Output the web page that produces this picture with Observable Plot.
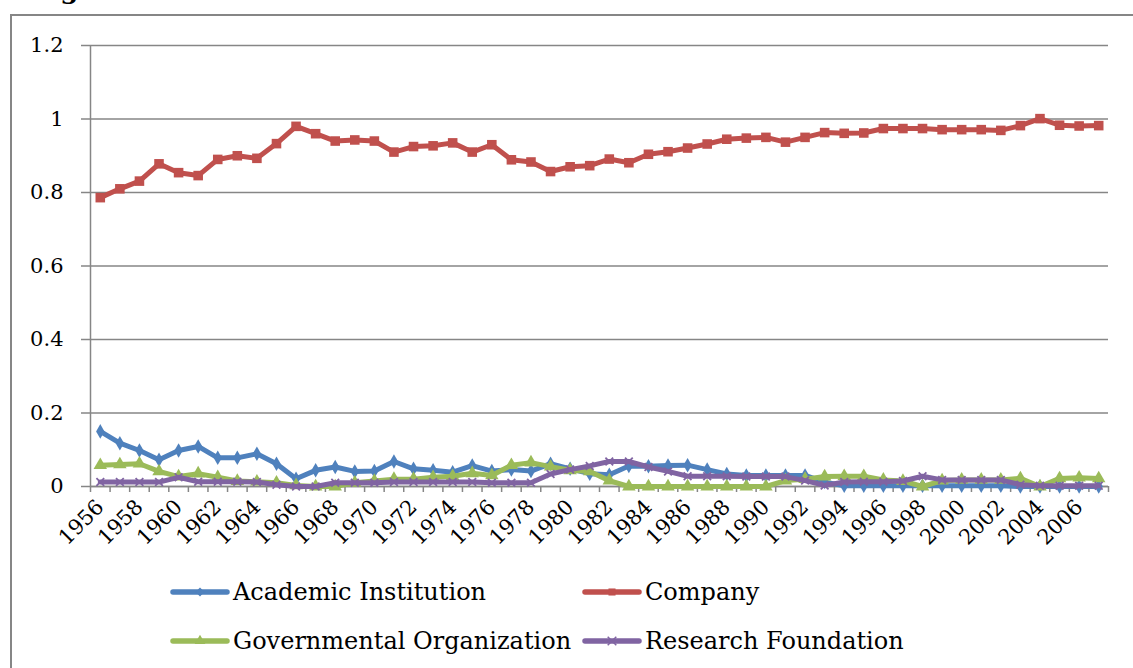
<!DOCTYPE html>
<html><head><meta charset="utf-8">
<script src="https://cdn.jsdelivr.net/npm/d3@7"></script>
<script src="https://cdn.jsdelivr.net/npm/@observablehq/plot@0.6"></script>
<style>
body{margin:0;background:#fff;}
#wrap{position:relative;width:1133px;height:668px;overflow:hidden;font-family:'DejaVu Serif',serif;background:#fff;}
#frame{position:absolute;left:10px;top:14px;width:1140px;height:700px;border:2px solid #868686;box-sizing:border-box;}
#title{position:absolute;left:32px;top:-23px;font-family:'DejaVu Serif',serif;font-weight:bold;font-size:26px;line-height:26px;white-space:nowrap;color:#000;}
#chart{position:absolute;left:0;top:0;}
.leg{position:absolute;display:flex;align-items:center;font-family:'DejaVu Serif',serif;font-size:24px;color:#000;white-space:nowrap;height:30px;}
.leg svg{margin-right:3px;}
#chart svg g[aria-label="x-axis tick label"] text{font-size:21px;}
</style></head>
<body><div id="wrap"><div id="title">Fig</div><div id="frame"></div><div id="chart"></div><div id="legend"></div></div>
<script>
const years = [1956,1957,1958,1959,1960,1961,1962,1963,1964,1965,1966,1967,1968,1969,1970,1971,1972,1973,1974,1975,1976,1977,1978,1979,1980,1981,1982,1983,1984,1985,1986,1987,1988,1989,1990,1991,1992,1993,1994,1995,1996,1997,1998,1999,2000,2001,2002,2003,2004,2005,2006,2007];
const series = ["Academic Institution","Company","Governmental Organization","Research Foundation"];
const academic = [0.150,0.118,0.098,0.073,0.098,0.109,0.078,0.078,0.089,0.062,0.021,0.044,0.053,0.041,0.042,0.068,0.048,0.044,0.039,0.057,0.042,0.046,0.042,0.062,0.048,0.035,0.032,0.056,0.055,0.057,0.058,0.046,0.034,0.030,0.030,0.030,0.030,0.012,0.002,0.002,0.002,0.002,0.002,0.002,0.002,0.002,0.002,0.000,0.000,0.000,0.000,0.000];
const company = [0.786,0.810,0.831,0.878,0.854,0.846,0.890,0.900,0.893,0.933,0.980,0.960,0.940,0.943,0.940,0.910,0.925,0.927,0.935,0.910,0.930,0.889,0.883,0.857,0.870,0.873,0.891,0.881,0.904,0.911,0.921,0.932,0.945,0.948,0.950,0.937,0.950,0.963,0.961,0.962,0.974,0.974,0.974,0.971,0.971,0.971,0.969,0.982,1.001,0.983,0.981,0.982];
const governmental = [0.058,0.060,0.062,0.041,0.027,0.035,0.025,0.015,0.013,0.010,0.003,0.000,0.000,0.010,0.015,0.020,0.020,0.025,0.028,0.036,0.030,0.058,0.065,0.054,0.044,0.041,0.016,0.000,0.000,0.000,0.000,0.000,0.000,0.000,0.000,0.016,0.020,0.027,0.028,0.028,0.018,0.015,0.000,0.016,0.018,0.018,0.018,0.022,0.000,0.022,0.024,0.022];
const research = [0.012,0.012,0.012,0.012,0.025,0.013,0.013,0.013,0.012,0.005,0.000,0.000,0.010,0.010,0.010,0.012,0.012,0.012,0.012,0.012,0.010,0.010,0.010,0.034,0.046,0.056,0.068,0.068,0.053,0.041,0.028,0.028,0.028,0.027,0.027,0.027,0.016,0.003,0.012,0.013,0.013,0.015,0.028,0.018,0.018,0.018,0.018,0.005,0.002,0.002,0.002,0.002];
const yTicks = [0,0.2,0.4,0.6,0.8,1,1.2];
const xLabels = years.filter((y,i)=>i%2===0);

const colors = ["#4F81BD","#C0504D","#9BBB59","#8064A2"];
const symbols = ["diamond","square","triangle","times"];
const dotR = [4.4,5.4,5,3.6];
const values = [academic, company, governmental, research];
const rows = series.flatMap((s,i)=>years.map((y,j)=>({year:y, value:values[i][j], series:s})));
const boundaries = years.map(y=>y-0.5).concat([years[years.length-1]+0.5]);
const gray = "#868686";
const FONT = "'DejaVu Serif', serif";

const seriesMarks = series.flatMap((s,i)=>{
  const d = rows.filter(r=>r.series===s);
  const dotOpts = symbols[i]==="times"
    ? {x:"year", y:"value", symbol:()=>s, stroke:()=>s, strokeWidth:1.8, r:dotR[i]}
    : {x:"year", y:"value", symbol:()=>s, fill:()=>s, stroke:"none", r:dotR[i]};
  return [
    Plot.line(d,{x:"year", y:"value", stroke:()=>s, strokeWidth:5, strokeLinejoin:"round", strokeLinecap:"round", curve:"linear"}),
    Plot.dot(d, dotOpts)
  ];
});

const chart = Plot.plot({
  width:1133, height:548,
  marginLeft:90, marginRight:25, marginTop:45, marginBottom:62,
  style:{fontFamily:FONT, background:"transparent", overflow:"visible", color:"#000"},
  x:{type:"linear", domain:[boundaries[0], boundaries[boundaries.length-1]], axis:null, label:null},
  y:{domain:[0,1.2], axis:null, label:null},
  color:{domain:series, range:colors},
  symbol:{domain:series, range:symbols},
  marks:[
    Plot.gridY(yTicks,{stroke:gray, strokeOpacity:1, strokeWidth:1.5}),
    Plot.axisY(yTicks,{label:null, tickSize:9, tickPadding:18, stroke:gray, strokeWidth:1.5, fontSize:21, fontFamily:FONT, fill:"#000", tickFormat:d=>String(+d.toFixed(1))}),
    Plot.ruleX([boundaries[0]],{stroke:gray, strokeWidth:1.5}),
    Plot.ruleY([0],{stroke:gray, strokeWidth:1.5}),
    Plot.axisX(boundaries,{label:null, tickSize:6, stroke:gray, strokeWidth:1.5, tickFormat:()=>""}),
    Plot.axisX(xLabels,{label:null, tickSize:0, tickPadding:17, tickRotate:-45, fontSize:21, fontFamily:FONT, fill:"#000", tickFormat:d=>String(d)}),
    ...seriesMarks
  ]
});
document.getElementById("chart").appendChild(chart);

// Legend
const legendPos = [[170,577],[582,577],[170,626],[582,626]];
const leg = document.getElementById("legend");
series.forEach((s,i)=>{
  const div = document.createElement("div");
  div.className = "leg";
  div.style.left = legendPos[i][0]+"px";
  div.style.top = legendPos[i][1]+"px";
  const sw = d3.create("svg").attr("width",60).attr("height",14);
  sw.append("line").attr("x1",3).attr("x2",57).attr("y1",7).attr("y2",7)
    .attr("stroke",colors[i]).attr("stroke-width",5.5).attr("stroke-linecap","round");
  const sym = d3.symbol().type({diamond:d3.symbolDiamond2,square:d3.symbolSquare,triangle:d3.symbolTriangle,times:d3.symbolTimes}[symbols[i]]).size(50);
  const p = sw.append("path").attr("d",sym()).attr("transform","translate(30,7)");
  if (symbols[i]==="times") p.attr("fill","none").attr("stroke",colors[i]).attr("stroke-width",1.5);
  else p.attr("fill",colors[i]);
  div.appendChild(sw.node());
  const t = document.createElement("span");
  t.textContent = s;
  div.appendChild(t);
  leg.appendChild(div);
});
</script>
</body></html>
